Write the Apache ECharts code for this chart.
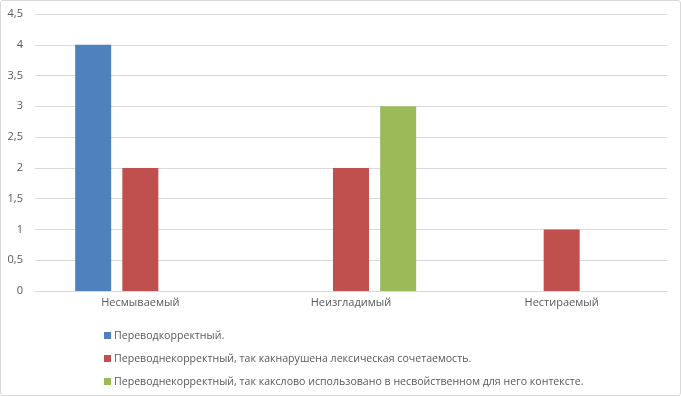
<!DOCTYPE html>
<html><head><meta charset="utf-8">
<script src="https://cdn.jsdelivr.net/npm/echarts@6/dist/echarts.min.js"></script>
<style>html,body{margin:0;padding:0;background:#fff}
#c{position:absolute;left:0;top:0;width:679px;height:394px;border:1px solid #d9d9d9;border-radius:3px}</style>
</head><body><div id="c"></div>
<script>
const categories = ['Несмываемый', 'Неизгладимый', 'Нестираемый'];
const seriesNames = ['Переводкорректный.', 'Переводнекорректный, так какнарушена лексическая сочетаемость.', 'Переводнекорректный, так какслово использовано в несвойственном для него контексте.'];
const correct = [4, null, null];
const lexical = [2, 2, 1];
const context = [null, 3, null];
const yTicks = [0, 0.5, 1, 1.5, 2, 2.5, 3, 3.5, 4, 4.5];
const colors = ['#4f81bd', '#c0504d', '#9bbb59'];

const chart = echarts.init(document.getElementById('c'), null, {renderer: 'canvas'});
const font = 'Open Sans, sans-serif';
chart.setOption({
  animation: false,
  grid: {left: 34, right: 13, top: 13, bottom: 104},
  xAxis: {type: 'category', data: categories,
    axisLine: {lineStyle: {color: '#d9d9d9'}}, axisTick: {show: false},
    axisLabel: {color: '#595959', fontSize: 11, fontFamily: font, margin: 6}},
  yAxis: {type: 'value', min: yTicks[0], max: yTicks[yTicks.length - 1], interval: 0.5,
    axisLine: {show: false}, axisTick: {show: false},
    splitLine: {lineStyle: {color: '#d9d9d9'}},
    axisLabel: {color: '#595959', fontSize: 11, fontFamily: font, margin: 12,
      formatter: v => String(v).replace('.', ',')}},
  legend: {orient: 'vertical', left: 98, top: 322, itemWidth: 7, itemHeight: 7, itemGap: 8,
    icon: 'rect', textStyle: {color: '#595959', fontSize: 10.6, fontFamily: font, padding: [0,0,0,-2], lineHeight: 15},
    data: seriesNames},
  series: [
    {name: seriesNames[0], type: 'bar', data: correct, itemStyle: {color: colors[0]}, barWidth: 36, barGap: '31%'},
    {name: seriesNames[1], type: 'bar', data: lexical, itemStyle: {color: colors[1]}, barWidth: 36, barGap: '31%'},
    {name: seriesNames[2], type: 'bar', data: context, itemStyle: {color: colors[2]}, barWidth: 36, barGap: '31%'}
  ]
});
</script></body></html>
